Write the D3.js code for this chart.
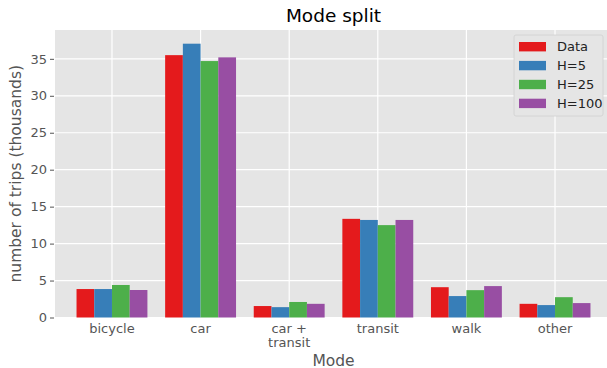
<!DOCTYPE html>
<html>
<head>
<meta charset="utf-8">
<script src="https://cdn.jsdelivr.net/npm/d3@7"></script>
<style>
  html, body { margin: 0; padding: 0; background: #fff; }
  svg { display: block; font-family: "DejaVu Sans", sans-serif; }
</style>
</head>
<body>
<svg id="chart" width="607" height="368"></svg>
<script>
// Trip counts (thousands) by mode, observed data vs. model runs
const categories = ["bicycle", "car", "car +\ntransit", "transit", "walk", "other"];
const seriesNames = ["Data", "H=5", "H=25", "H=100"];
const dataValues = [3.85, 35.5, 1.55, 13.35, 4.1, 1.85];
const h5Values   = [3.85, 37.05, 1.4, 13.2, 2.9, 1.68];
const h25Values  = [4.4, 34.7, 2.1, 12.5, 3.7, 2.75];
const h100Values = [3.72, 35.2, 1.85, 13.2, 4.25, 1.95];
const yTicks = [0, 5, 10, 15, 20, 25, 30, 35];
const colors = ["#E41A1C", "#377EB8", "#4DAF4A", "#984EA3"];

const series = [dataValues, h5Values, h25Values, h100Values];

const svg = d3.select("#chart");
const margin = { left: 55, top: 30, right: 612, bottom: 317.5 };

const maxVal = d3.max(series.flat());
const y = d3.scaleLinear().domain([0, maxVal * 1.05]).range([margin.bottom, margin.top]);

// category positions: centers at 0..n-1, with padding at both ends
const x = d3.scaleLinear()
  .domain([-0.643, categories.length - 1 + 0.643])
  .range([margin.left, margin.right]);
const groupWidth = 0.8;
const barW = groupWidth / series.length;

// panel background
svg.append("rect")
  .attr("x", margin.left).attr("y", margin.top)
  .attr("width", margin.right - margin.left)
  .attr("height", margin.bottom - margin.top)
  .attr("fill", "#E5E5E5");

// grid lines
const grid = svg.append("g");
grid.selectAll("line.h").data(yTicks).join("line")
  .attr("x1", margin.left).attr("x2", margin.right)
  .attr("y1", d => y(d)).attr("y2", d => y(d))
  .attr("stroke", "#fff").attr("stroke-width", 1.2);
grid.selectAll("line.v").data(categories).join("line")
  .attr("x1", (d, i) => x(i)).attr("x2", (d, i) => x(i))
  .attr("y1", margin.top).attr("y2", margin.bottom)
  .attr("stroke", "#fff").attr("stroke-width", 1.2);

// bars
series.forEach((vals, s) => {
  svg.append("g").selectAll("rect").data(vals).join("rect")
    .attr("x", (d, i) => x(i - groupWidth / 2 + s * barW))
    .attr("width", x(barW) - x(0))
    .attr("y", d => y(d))
    .attr("height", d => y(0) - y(d))
    .attr("fill", colors[s]);
});

// y axis
const yAxis = d3.axisLeft(y).tickValues(yTicks).tickSize(4).tickPadding(3);
const yg = svg.append("g").attr("transform", `translate(${margin.left - 1},0)`).call(yAxis);
yg.select(".domain").remove();
yg.selectAll(".tick line").attr("stroke", "#555");
yg.selectAll(".tick text").attr("fill", "#555").style("font-size", "13px")
  .style("font-family", "DejaVu Sans, sans-serif");

// x axis labels (multi-line)
const xg = svg.append("g");
categories.forEach((c, i) => {
  const t = xg.append("text")
    .attr("x", x(i)).attr("y", 332.5)
    .attr("text-anchor", "middle")
    .attr("fill", "#555")
    .style("font-size", "13px");
  c.split("\n").forEach((line, k) => {
    t.append("tspan").attr("x", x(i)).attr("dy", k === 0 ? 0 : 14.5).text(line);
  });
});

// axis titles
svg.append("text")
  .attr("x", (margin.left + margin.right) / 2).attr("y", 365.5)
  .attr("text-anchor", "middle").attr("fill", "#555")
  .style("font-size", "15.5px").text("Mode");
svg.append("text")
  .attr("transform", `translate(21,${(margin.top + margin.bottom) / 2}) rotate(-90)`)
  .attr("text-anchor", "middle").attr("fill", "#555")
  .style("font-size", "15.5px").text("number of trips (thousands)");
svg.append("text")
  .attr("x", (margin.left + margin.right) / 2).attr("y", 22)
  .attr("text-anchor", "middle").attr("fill", "#000")
  .style("font-size", "18.5px").text("Mode split");

// legend
const lg = svg.append("g");
lg.append("rect")
  .attr("x", 514).attr("y", 35).attr("width", 89).attr("height", 81)
  .attr("rx", 2).attr("fill", "#E5E5E5").attr("stroke", "#d0d0d0").attr("stroke-width", 0.8);
seriesNames.forEach((n, i) => {
  const cy = 46.7 + i * 18.9;
  lg.append("rect").attr("x", 519).attr("y", cy - 4.7).attr("width", 27).attr("height", 9.4)
    .attr("fill", colors[i]);
  lg.append("text").attr("x", 557).attr("y", cy + 4.6)
    .attr("fill", "#222").style("font-size", "13px").text(n);
});
</script>
</body>
</html>
